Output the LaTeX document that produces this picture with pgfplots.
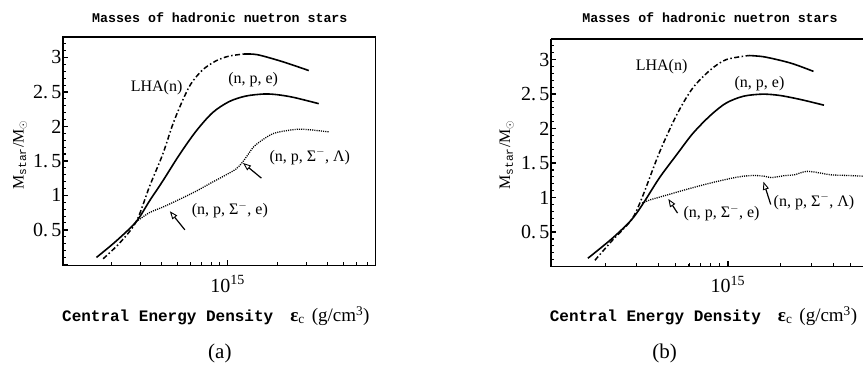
\documentclass[border=0pt]{standalone}
\usepackage{fontspec}
\setmainfont{Liberation Serif}
\newfontfamily\mono{Liberation Mono}
\usepackage{pgfplots}
\pgfplotsset{compat=1.18}
\usetikzlibrary{arrows.meta}

\pgfplotsset{
    scale only axis,
    tick align=inside,
    major tick length=5pt, minor tick length=3pt,
    every tick/.append style={black, line width=1pt},
    /pgf/number format/assume math mode=true,
    tick label style={font=\fontsize{20}{20}\selectfont},
    yticklabel style={inner sep=1pt},
    xticklabel style={inner sep=0pt, yshift=-9pt},
    every axis/.append style={line width=1.1pt},
}
\tikzset{
  npe/.style={black, line width=1.6pt},
  lhadd/.style={black, line width=1.5pt, dash pattern=on 5pt off 2.5pt on 1.5pt off 2.5pt},
  lhas/.style={black, line width=1.6pt},
  hyp/.style={black, line width=1.3pt, dash pattern=on 1.1pt off 1.1pt},
  arr/.style={line width=1.2pt, -{Triangle[open, length=8pt, width=6pt, line width=0.9pt]}},
  lab/.style={inner sep=0pt, font=\fontsize{16}{16}\selectfont},
  mtk/.style={black, line width=1.6pt},
  ntk/.style={black, line width=0.9pt},
}

\begin{document}
\begin{tikzpicture}
\path (0pt,0pt) rectangle (864pt,368pt);

% ---------------- panel (a)
\begin{axis}[xmode=log, anchor=south west, at={(63pt,102pt)}, width=313pt, height=229pt,
  xtick pos=left, ytick pos=left,
  xmin=1.019e14, xmax=7.83e15, ymin=-0.022, ymax=3.297,
  xtick={1e15}, xticklabels={10\textsuperscript{15}},
  minor xtick={2e14,3e14,4e14,5e14,6e14,7e14,8e14,9e14,2e15,3e15,4e15,5e15,6e15,7e15,8e15,9e15},
  ytick={0,0.5,1,1.5,2,2.5,3},
  yticklabels={,0.\,5,1,1.\,5,2,2.\,5,3},
  minor ytick={0.1,0.2,0.3,0.4,0.6,0.7,0.8,0.9,1.1,1.2,1.3,1.4,1.6,1.7,1.8,1.9,2.1,2.2,2.3,2.4,2.6,2.7,2.8,2.9,3.1,3.2}]
\addplot[npe, smooth] coordinates {
(1.622e14,0.10) (2.138e14,0.34) (2.818e14,0.62) (3.388e14,0.92) (4.074e14,1.21)
(5.129e14,1.59) (6.457e14,1.93) (8.128e14,2.20) (1.023e15,2.36) (1.288e15,2.44)
(1.660e15,2.47) (1.995e15,2.46) (2.512e15,2.42) (3.548e15,2.33)};
\addplot[lhadd, smooth] coordinates {
(1.778e14,0.08) (2.239e14,0.31) (2.818e14,0.62) (3.388e14,1.13) (4.074e14,1.60)
(4.677e14,2.03) (5.370e14,2.38) (6.026e14,2.62) (7.079e14,2.82) (8.511e14,2.95)
(1.023e15,3.02) (1.259e15,3.05)};
\addplot[lhas, smooth] coordinates {
(1.259e15,3.05) (1.514e15,3.04) (2.138e15,2.94) (3.090e15,2.81)};
\addplot[hyp, smooth] coordinates {
(2.818e14,0.62) (3.388e14,0.75) (4.074e14,0.83) (5.012e14,0.93) (6.457e14,1.06)
(7.943e14,1.18) (9.333e14,1.27) (1.122e15,1.38) (1.230e15,1.48) (1.318e15,1.58)
(1.445e15,1.71) (1.660e15,1.82) (1.905e15,1.90) (2.291e15,1.94) (2.818e15,1.96)
(4.074e15,1.92)};
\draw[arr] (axis cs:5.53e14,0.50) -- (axis cs:4.49e14,0.77);
\draw[arr] (axis cs:1.60e15,1.25) -- (axis cs:1.24e15,1.47);
% tick marks
\pgfplotsinvokeforeach{2e14,3e14,4e14,5e14,6e14,7e14,8e14,9e14,2e15,3e15,4e15,5e15,6e15,7e15}{
  \draw[ntk] (axis cs:#1,-0.022) -- ++(0pt,3.5pt);}
\draw[mtk] (axis cs:1e15,-0.022) -- ++(0pt,6pt);
\pgfplotsinvokeforeach{0.1,0.2,0.3,0.4,0.6,0.7,0.8,0.9,1.1,1.2,1.3,1.4,1.6,1.7,1.8,1.9,2.1,2.2,2.3,2.4,2.6,2.7,2.8,2.9,3.1,3.2}{
  \draw[ntk] (axis cs:1.019e14,#1) -- ++(3pt,0pt);}
\pgfplotsinvokeforeach{0,0.5,1,1.5,2,2.5,3}{
  \draw[mtk] (axis cs:1.019e14,#1) -- ++(5.5pt,0pt);}
\end{axis}

% ---------------- panel (b): right edge of the box is the picture's edge
\begin{axis}[xmode=log, anchor=south west, at={(551.3pt,101.3pt)}, width=312.7pt, height=227.7pt,
  axis x line*=box, axis y line*=left,
  xtick pos=left, ytick pos=left,
  xmin=9.75e13, xmax=5.97e15, ymin=0, ymax=3.30,
  xtick={1e15}, xticklabels={10\textsuperscript{15}},
  minor xtick={2e14,3e14,4e14,5e14,6e14,7e14,8e14,9e14,2e15,3e15,4e15,5e15},
  ytick={0,0.5,1,1.5,2,2.5,3},
  yticklabels={,0.\,5,1,1.\,5,2,2.\,5,3},
  minor ytick={0.1,0.2,0.3,0.4,0.6,0.7,0.8,0.9,1.1,1.2,1.3,1.4,1.6,1.7,1.8,1.9,2.1,2.2,2.3,2.4,2.6,2.7,2.8,2.9,3.1,3.2}]
\addplot[npe, smooth] coordinates {
(1.585e14,0.12) (2.188e14,0.41) (2.818e14,0.68) (3.311e14,0.93) (4.074e14,1.29)
(5.129e14,1.63) (6.310e14,1.93) (7.943e14,2.19) (9.772e14,2.37) (1.230e15,2.47)
(1.585e15,2.50) (1.995e15,2.48) (2.630e15,2.42) (3.548e15,2.34)};
\addplot[lhadd, smooth] coordinates {
(1.738e14,0.09) (2.188e14,0.38) (2.818e14,0.68) (3.236e14,1.00) (4.074e14,1.66)
(5.129e14,2.21) (6.310e14,2.59) (7.943e14,2.85) (9.772e14,3.00) (1.318e15,3.06)};
\addplot[lhas, smooth] coordinates {
(1.318e15,3.06) (1.622e15,3.04) (2.291e15,2.95) (3.090e15,2.83)};
\addplot[hyp, smooth] coordinates {
(3.236e14,0.92) (3.631e14,0.97) (4.677e14,1.05) (6.026e14,1.13) (7.943e14,1.21)
(1.047e15,1.28) (1.230e15,1.31) (1.413e15,1.32) (1.622e15,1.31) (1.778e15,1.29)
(2.138e15,1.32) (2.399e15,1.33) (2.818e15,1.38) (3.311e15,1.36) (3.890e15,1.33)
(4.898e15,1.32) (5.970e15,1.31)};
\draw[arr] (axis cs:5.16e14,0.775) -- (axis cs:4.57e14,0.98);
\draw[arr] (axis cs:1.76e15,0.90) -- (axis cs:1.60e15,1.23);
% tick marks
\pgfplotsinvokeforeach{2e14,3e14,4e14,5e14,6e14,7e14,8e14,9e14,2e15,3e15,4e15,5e15}{
  \draw[ntk] (axis cs:#1,0) -- ++(0pt,3.5pt);}
\draw[mtk] (axis cs:1e15,0) -- ++(0pt,6pt);
\pgfplotsinvokeforeach{0.1,0.2,0.3,0.4,0.6,0.7,0.8,0.9,1.1,1.2,1.3,1.4,1.6,1.7,1.8,1.9,2.1,2.2,2.3,2.4,2.6,2.7,2.8,2.9,3.1,3.2}{
  \draw[ntk] (axis cs:9.75e13,#1) -- ++(3pt,0pt);}
\pgfplotsinvokeforeach{0,0.5,1,1.5,2,2.5,3}{
  \draw[mtk] (axis cs:9.75e13,#1) -- ++(5.5pt,0pt);}
\end{axis}

% ---------------- titles
\node[anchor=base, inner sep=0pt, font=\mono\bfseries\fontsize{13.3}{14}\selectfont] at (220pt,345pt) {Masses of hadronic nuetron stars};
\node[anchor=base, inner sep=0pt, font=\mono\bfseries\fontsize{13.3}{14}\selectfont] at (710.5pt,345pt) {Masses of hadronic nuetron stars};

% ---------------- x labels
\node[anchor=base west, inner sep=0pt, font=\fontsize{19}{19}\selectfont] at (62pt,46.5pt)
  {{\mono\bfseries\fontsize{16}{16}\selectfont Central Energy Density}\hspace{17pt}{\bfseries ε}\textsubscript{c}\hspace{7pt}(g/cm\textsuperscript{3})};
\node[anchor=base west, inner sep=0pt, font=\fontsize{19}{19}\selectfont] at (550pt,46.5pt)
  {{\mono\bfseries\fontsize{16}{16}\selectfont Central Energy Density}\hspace{17pt}{\bfseries ε}\textsubscript{c}\hspace{7pt}(g/cm\textsuperscript{3})};

% ---------------- y labels
\node[rotate=90, inner sep=0pt, font=\fontsize{16}{16}\selectfont] at (20pt,213pt)
  {M\textsubscript{\mono star}/M$_{\odot}$};
\node[rotate=90, inner sep=0pt, font=\fontsize{16}{16}\selectfont] at (507pt,213pt)
  {M\textsubscript{\mono star}/M$_{\odot}$};

% ---------------- curve labels
\node[lab] at (156.7pt,280.7pt) {LHA(n)};
\node[lab] at (253.3pt,288pt) {(n, p, e)};
\node[lab] at (310pt,211.3pt) {(n, p, Σ$^{-}$, Λ)};
\node[lab] at (230pt,158pt) {(n, p, Σ$^{-}$, e)};
\node[lab] at (662pt,301.3pt) {LHA(n)};
\node[lab] at (760pt,284.7pt) {(n, p, e)};
\node[lab] at (722pt,154.7pt) {(n, p, Σ$^{-}$, e)};
\node[lab] at (814.5pt,166.3pt) {(n, p, Σ$^{-}$, Λ)};

% ---------------- captions
\node[anchor=base, inner sep=0pt, font=\fontsize{21}{21}\selectfont] at (220pt,9pt) {(a)};
\node[anchor=base, inner sep=0pt, font=\fontsize{21}{21}\selectfont] at (665pt,9pt) {(b)};
\end{tikzpicture}
\end{document}
